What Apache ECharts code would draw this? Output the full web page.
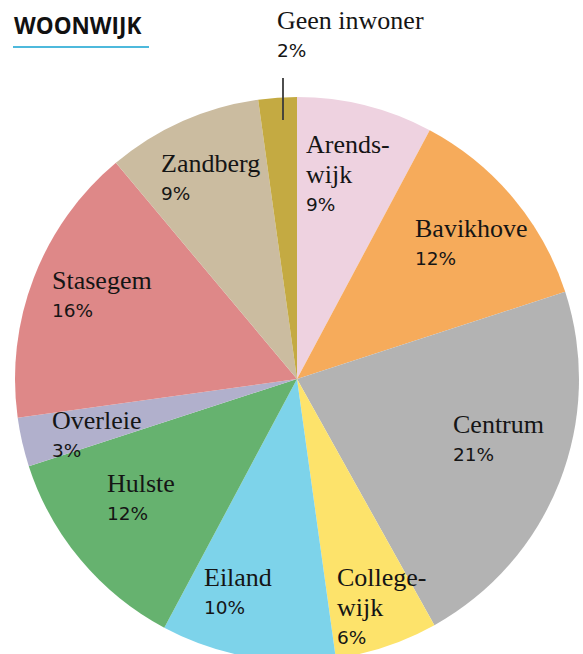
<!DOCTYPE html>
<html>
<head>
	<meta charset="UTF-8">
	<title>Woonwijk</title>
	<script src="https://cdn.jsdelivr.net/npm/echarts@6/dist/echarts.min.js"></script>
	<style>
		html, body { margin: 0; padding: 0; background: #fff; }
	</style>
</head>
<body>
<div id="main" style="width: 583px;height:654px;"></div>
<script type="text/javascript">
	// gegevens: aandeel per woonwijk (hoek van de schijf) en het afgedrukte percentage
	var wijken = ['Arendswijk', 'Bavikhove', 'Centrum', 'Collegewijk', 'Eiland', 'Hulste', 'Overleie', 'Stasegem', 'Zandberg', 'Geen inwoner'];
	var aandeel = [7.8, 12.2, 21.9, 5.9, 10.0, 12.2, 2.8, 16.1, 8.9, 2.2];
	var percent = [9, 12, 21, 6, 10, 12, 3, 16, 9, 2];
	var kleuren = ['#eed2e0', '#f6ab5b', '#b3b3b3', '#fde36b', '#7dd3ea', '#66b26f', '#b1b0cc', '#de8888', '#cbbca0', '#c4aa42'];

	// afbreking van lange namen
	var afbreking = {
		'Arendswijk': ['Arends-', 'wijk'],
		'Collegewijk': ['College-', 'wijk']
	};

	// linkerbovenhoek van elk label
	var labelPos = [[306, 129], [415, 213], [453, 409], [337, 562], [204, 562], [107, 468], [52, 405], [52, 265], [161, 148], [277, 5]];

	var myChart = echarts.init(document.getElementById('main'), null, { renderer: 'svg' });

	var data = [];
	for (var i = 0; i < wijken.length; i++) {
		var item = {
			name: wijken[i],
			value: aandeel[i],
			itemStyle: { color: kleuren[i] }
		};
		if (wijken[i] === 'Geen inwoner') {
			item.label = { position: 'outside' };
		}
		data.push(item);
	}

	var option = {
		animation: false,
		title: {
			text: 'WOONWIJK',
			left: 14,
			top: 14,
			padding: 0,
			textStyle: {
				fontFamily: 'Open Sans',
				fontWeight: 'bold',
				fontSize: 22.5,
				color: '#111'
			}
		},
		graphic: [
			{
				type: 'rect',
				shape: { x: 13, y: 46, width: 136, height: 2 },
				style: { fill: '#4db9dc' }
			},
			{
				// verwijslijn naar 'Geen inwoner'
				type: 'line',
				z: 100,
				shape: { x1: 283, y1: 78, x2: 283, y2: 120 },
				style: { stroke: '#3a3a3a', lineWidth: 1.8 }
			}
		],
		series: [
			{
				type: 'pie',
				center: [297, 379],
				radius: 282,
				startAngle: 90,
				clockwise: true,
				avoidLabelOverlap: false,
				silent: true,
				data: data,
				label: {
					show: true,
					position: 'inside',
					align: 'left',
					formatter: function (p) {
						var regels = afbreking[p.name] || [p.name];
						var s = [];
						for (var j = 0; j < regels.length; j++) {
							s.push('{n|' + regels[j] + '}');
						}
						s.push('{p|' + percent[p.dataIndex] + '%}');
						return s.join('\n');
					},
					rich: {
						n: {
							fontFamily: 'Liberation Serif',
							fontSize: 26,
							lineHeight: 30,
							color: '#151515'
						},
						p: {
							fontFamily: 'DejaVu Sans',
							fontSize: 18.5,
							lineHeight: 30,
							color: '#151515'
						}
					}
				},
				labelLine: { show: false },
				labelLayout: function (p) {
					var a = labelPos[p.dataIndex];
					return { x: a[0], y: a[1], align: 'left', verticalAlign: 'top' };
				}
			}
		]
	};

	myChart.setOption(option);
</script>
</body>
</html>
